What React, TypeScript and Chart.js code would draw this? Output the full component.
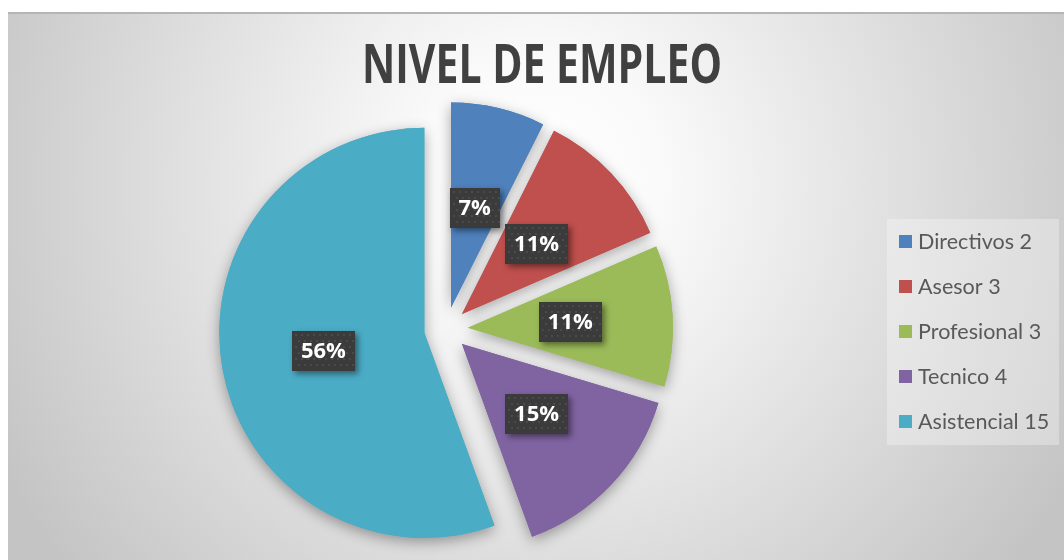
import React, { useEffect, useRef } from "react";
import { Chart, registerables } from "chart.js";

Chart.register(...registerables);

const categories = ["Directivos", "Asesor", "Profesional", "Tecnico", "Asistencial"];
const counts = [2, 3, 3, 4, 15];
const sliceColors = ["#4F81BD", "#C0504D", "#9BBB59", "#8064A2", "#4BACC6"];
const chartTitle = "NIVEL DE EMPLEO";

const W = 1056;
const H = 548;
const EXPLODE = 22;

const fitText = (ctx: CanvasRenderingContext2D, text: string, x: number, y: number, targetW: number) => {
  const w = ctx.measureText(text).width;
  const s = targetW / w;
  ctx.save();
  ctx.translate(x, y);
  ctx.scale(s, 1);
  ctx.fillText(text, 0, 0);
  ctx.restore();
};

export default function App() {
  const ref = useRef<HTMLCanvasElement>(null);

  useEffect(() => {
    document.body.style.margin = "0";
    document.body.style.overflow = "hidden";
    const canvas = ref.current!;
    const total = counts.reduce((a, b) => a + b, 0);

    const bgPlugin = {
      id: "bg",
      beforeDraw(chart: any) {
        const ctx = chart.ctx as CanvasRenderingContext2D;
        ctx.save();
        const g = ctx.createRadialGradient(530, 170, 0, 530, 170, 610);
        g.addColorStop(0, "#ffffff");
        g.addColorStop(0.2, "#fafafa");
        g.addColorStop(1, "#c4c4c4");
        ctx.fillStyle = g;
        ctx.fillRect(0, 0, W, H);
        ctx.fillStyle = "#b5b5b5";
        ctx.fillRect(0, 0, W, 2);
        ctx.restore();
      },
    };

    const explodePlugin = {
      id: "explode",
      beforeDatasetDraw(chart: any, args: any) {
        const ctx = chart.ctx as CanvasRenderingContext2D;
        const arcs = args.meta.data;
        for (let pass = 0; pass < 2; pass++) {
          arcs.forEach((arc: any) => {
            const mid = (arc.startAngle + arc.endAngle) / 2;
            ctx.save();
            ctx.translate(Math.cos(mid) * EXPLODE, Math.sin(mid) * EXPLODE);
            if (pass === 0) {
              ctx.shadowColor = "rgba(0,0,0,0.35)";
              ctx.shadowBlur = 14;
              ctx.shadowOffsetX = 0;
              ctx.shadowOffsetY = 4;
            }
            arc.draw(ctx);
            ctx.restore();
          });
        }
        return false;
      },
    };

    const overlayPlugin = {
      id: "overlay",
      afterDraw(chart: any) {
        const ctx = chart.ctx as CanvasRenderingContext2D;
        // Title
        ctx.save();
        ctx.fillStyle = "#404040";
        ctx.font = 'bold 53px "Open Sans", sans-serif';
        ctx.textAlign = "left";
        ctx.textBaseline = "alphabetic";
        fitText(ctx, chartTitle, 354, 71, 360);
        ctx.restore();

        // Data labels
        const arcs = chart.getDatasetMeta(0).data;
        arcs.forEach((arc: any, i: number) => {
          const mid = (arc.startAngle + arc.endAngle) / 2;
          const r = EXPLODE + arc.outerRadius / 2;
          const cx = arc.x + Math.cos(mid) * r;
          const cy = arc.y + Math.sin(mid) * r;
          const txt = Math.round((counts[i] / total) * 100) + "%";
          ctx.save();
          ctx.font = 'bold 22px "Open Sans", sans-serif';
          const tw = ctx.measureText(txt).width;
          const bw = Math.round(tw + 18);
          const bh = 40;
          const bx = Math.round(cx - bw / 2);
          const by = Math.round(cy - bh / 2);
          ctx.shadowColor = "rgba(0,0,0,0.45)";
          ctx.shadowBlur = 6;
          ctx.shadowOffsetX = 3;
          ctx.shadowOffsetY = 3;
          ctx.fillStyle = "#3b3b3b";
          ctx.fillRect(bx, by, bw, bh);
          ctx.shadowColor = "transparent";
          ctx.fillStyle = "#4a4a4a";
          for (let yy = by + 3; yy < by + bh - 1; yy += 6) {
            for (let xx = bx + 3 + ((yy - by) % 12 === 3 ? 0 : 3); xx < bx + bw - 1; xx += 6) {
              ctx.fillRect(xx, yy, 2, 2);
            }
          }
          ctx.fillStyle = "#ffffff";
          ctx.textAlign = "center";
          ctx.textBaseline = "middle";
          ctx.fillText(txt, cx, by + bh / 2 + 1);
          ctx.restore();
        });

        // Legend
        ctx.save();
        ctx.fillStyle = "rgba(255,255,255,0.3)";
        ctx.fillRect(879, 207, 172, 226);
        ctx.font = '21px Lato, "Open Sans", sans-serif';
        ctx.textAlign = "left";
        ctx.textBaseline = "middle";
        const refW = ctx.measureText(categories[0] + " " + counts[0]).width;
        const sx = 114 / refW;
        categories.forEach((c, i) => {
          const y = 229 + i * 45;
          ctx.fillStyle = sliceColors[i];
          ctx.fillRect(891, y - 6, 13, 13);
          ctx.fillStyle = "#595959";
          const t = c + " " + counts[i];
          ctx.save();
          ctx.translate(910, y + 1);
          ctx.scale(sx, 1);
          ctx.fillText(t, 0, 0);
          ctx.restore();
        });
        ctx.restore();
      },
    };

    const chart = new Chart(canvas, {
      type: "pie",
      data: {
        labels: categories,
        datasets: [
          {
            data: counts,
            backgroundColor: sliceColors,
            borderWidth: 0,
          },
        ],
      },
      options: {
        responsive: false,
        animation: false,
        events: [],
        layout: { padding: { left: 0, right: 180, top: 112, bottom: 26 } },
        plugins: {
          legend: { display: false },
          title: { display: false },
          tooltip: { enabled: false },
        },
      },
      plugins: [bgPlugin, explodePlugin, overlayPlugin],
    });

    return () => chart.destroy();
  }, []);

  return (
    <div style={{ paddingTop: 12, paddingLeft: 8 }}>
      <canvas ref={ref} width={W} height={H} style={{ display: "block", width: W, height: H }} />
    </div>
  );
}
